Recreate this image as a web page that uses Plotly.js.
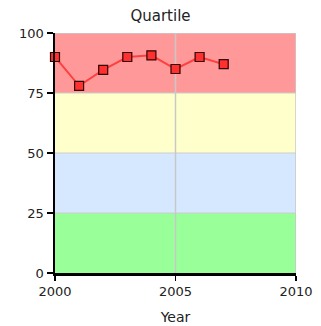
<!DOCTYPE html>
<html><head><meta charset="utf-8">
<script src="https://cdn.plot.ly/plotly-3.0.1.min.js"></script>
<style>html,body{margin:0;padding:0;background:#fff}#c{width:321px;height:326px}</style>
</head><body><div id="c"></div>
<script>
const years = [2000, 2001, 2002, 2003, 2004, 2005, 2006, 2007];
const quartile = [90, 78, 84.6, 90, 90.7, 85, 90, 87];
const bandLows = [0, 25, 50, 75];
const bandHighs = [25, 50, 75, 100];
const bandColors = ['#99ff99', '#d6e8ff', '#ffffcc', '#ff9999'];
const xTicks = [2000, 2005, 2010];
const yTicks = [0, 25, 50, 75, 100];

const shapes = bandLows.map((lo, i) => ({
  type: 'rect', xref: 'x', yref: 'y', x0: 2000, x1: 2010, y0: lo, y1: bandHighs[i],
  fillcolor: bandColors[i], line: {width: 0}, layer: 'below'
}));
[25, 50, 75].forEach(v => shapes.push({type:'line', xref:'x', yref:'y', x0:2000, x1:2010, y0:v, y1:v, line:{color:'#cccccc', width:1}, layer:'below'}));
shapes.push({type:'line', xref:'x', yref:'y', x0:2005, x1:2005, y0:0, y1:100, line:{color:'#c8c8c8', width:1.5}, layer:'below'});
shapes.push({type:'line', xref:'x', yref:'y', x0:2010, x1:2010, y0:0, y1:100, line:{color:'#c8c8c8', width:1.5}, layer:'below'});
shapes.push({type:'line', xref:'x', yref:'y', x0:2000, x1:2010, y0:100, y1:100, line:{color:'#c8c8c8', width:1.5}, layer:'below'});

Plotly.newPlot('c', [{
  x: years, y: quartile, type: 'scatter', mode: 'lines+markers',
  line: {color: '#ff4040', width: 2},
  marker: {symbol: 'square', size: 9, color: '#ff3030', line: {color: '#330000', width: 1.2}},
  cliponaxis: false, hoverinfo: 'none'
}], {
  width: 321, height: 326,
  margin: {l: 55, r: 25, t: 33, b: 53},
  paper_bgcolor: '#ffffff', plot_bgcolor: '#ffffff',
  font: {family: 'DejaVu Sans, Verdana, sans-serif', color: '#222', size: 13},
  title: {text: 'Quartile', font: {size: 15, color: '#222'}, x: 0.5, xanchor: 'center', yref: 'container', y: 0.952, yanchor: 'middle'},
  showlegend: false,
  shapes: shapes,
  xaxis: {
    range: [2000, 2010], tickvals: xTicks, ticktext: xTicks.map(String),
    showgrid: false, zeroline: false, showline: true, linecolor: '#000', linewidth: 2.5,
    ticks: 'outside', ticklen: 5, tickcolor: '#000', tickwidth: 1.5,
    title: {text: 'Year', font: {size: 14}, standoff: 14}, fixedrange: true
  },
  yaxis: {
    range: [0, 100], tickvals: yTicks, ticktext: yTicks.map(String),
    showgrid: false, zeroline: false, showline: true, linecolor: '#000', linewidth: 2.5,
    ticks: 'outside', ticklen: 6, tickcolor: '#000', tickwidth: 1.5, fixedrange: true
  }
}, {staticPlot: true});
</script></body></html>
